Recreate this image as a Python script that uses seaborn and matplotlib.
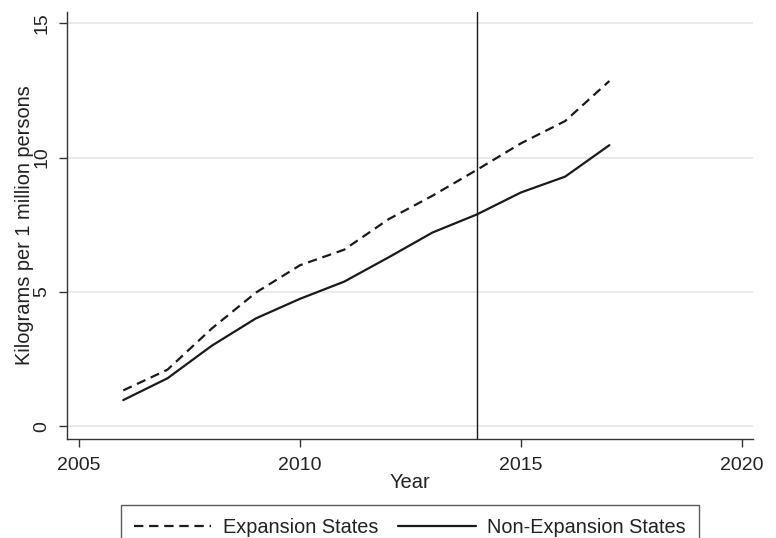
import matplotlib
matplotlib.use("Agg")
import matplotlib.pyplot as plt
import seaborn as sns
import pandas as pd

years = [2006, 2007, 2008, 2009, 2010, 2011, 2012, 2013, 2014, 2015, 2016, 2017]
expansion = [1.33, 2.1, 3.63, 4.97, 5.99, 6.57, 7.7, 8.58, 9.54, 10.53, 11.36, 12.85]
non_expansion = [0.97, 1.78, 2.99, 4.01, 4.74, 5.38, 6.28, 7.21, 7.88, 8.7, 9.29, 10.46]
series_names = ["Expansion States", "Non-Expansion States"]
x_ticks = [2005, 2010, 2015, 2020]
y_ticks = [0, 5, 10, 15]
policy_year = 2014

sns.set_style("white")
plt.rcParams["font.family"] = ["Liberation Sans", "DejaVu Sans"]

df = pd.DataFrame({
    "Year": years * 2,
    "value": expansion + non_expansion,
    "group": [series_names[0]] * len(years) + [series_names[1]] * len(years),
})

fig = plt.figure(figsize=(7.76, 5.38), dpi=100)
ax = fig.add_axes([66.7 / 776, (538 - 439) / 538, (753 - 66.7) / 776, (439 - 11.7) / 538])

text_col = "#222222"
sns.lineplot(data=df, x="Year", y="value", style="group",
             style_order=series_names,
             dashes={series_names[0]: (4.2, 2.6), series_names[1]: ""},
             color="#1a1a1a", linewidth=1.6, ax=ax, legend=True)

ax.axvline(policy_year, color="#1a1a1a", linewidth=1.0, zorder=3)

ax.set_xlim(2004.72, 2020.25)
ax.set_ylim(-0.48, 15.43)
ax.set_xticks(x_ticks)
ax.set_yticks(y_ticks)
ax.set_yticklabels([str(v) for v in y_ticks], rotation=90, va="center")
ax.yaxis.grid(True, color="#e6e6e6", linewidth=1.2)
ax.xaxis.grid(False)
ax.set_axisbelow(True)

for s in ["top", "right"]:
    ax.spines[s].set_visible(False)
for s in ["left", "bottom"]:
    ax.spines[s].set_color("#333333")
    ax.spines[s].set_linewidth(1.0)

ax.tick_params(axis="both", which="major", direction="out", length=6, width=1.0,
               color="#333333", labelsize=14, labelcolor=text_col,
               bottom=True, left=True)
ax.tick_params(axis="x", pad=7)
ax.tick_params(axis="y", pad=6)

ax.set_xlabel("Year", fontsize=14.5, color=text_col, labelpad=-1)
ax.set_ylabel("Kilograms per 1 million persons", fontsize=14.4, color=text_col, labelpad=-1)

handles, labels = ax.get_legend_handles_labels()
ax.get_legend().remove()
leg = fig.legend(handles, labels, loc="upper left", ncol=2,
                 bbox_to_anchor=(121 / 776, (538 - 505) / 538, (699 - 121) / 776, 0.0),
                 mode="expand", borderaxespad=0.0, frameon=True, fancybox=False,
                 edgecolor="#333333", fontsize=14.3, handlelength=3.9,
                 handletextpad=0.6, borderpad=0.65, columnspacing=2.0)
leg.get_frame().set_linewidth(1.0)
for t in leg.get_texts():
    t.set_color(text_col)

fig.savefig("out.png", dpi=100)
